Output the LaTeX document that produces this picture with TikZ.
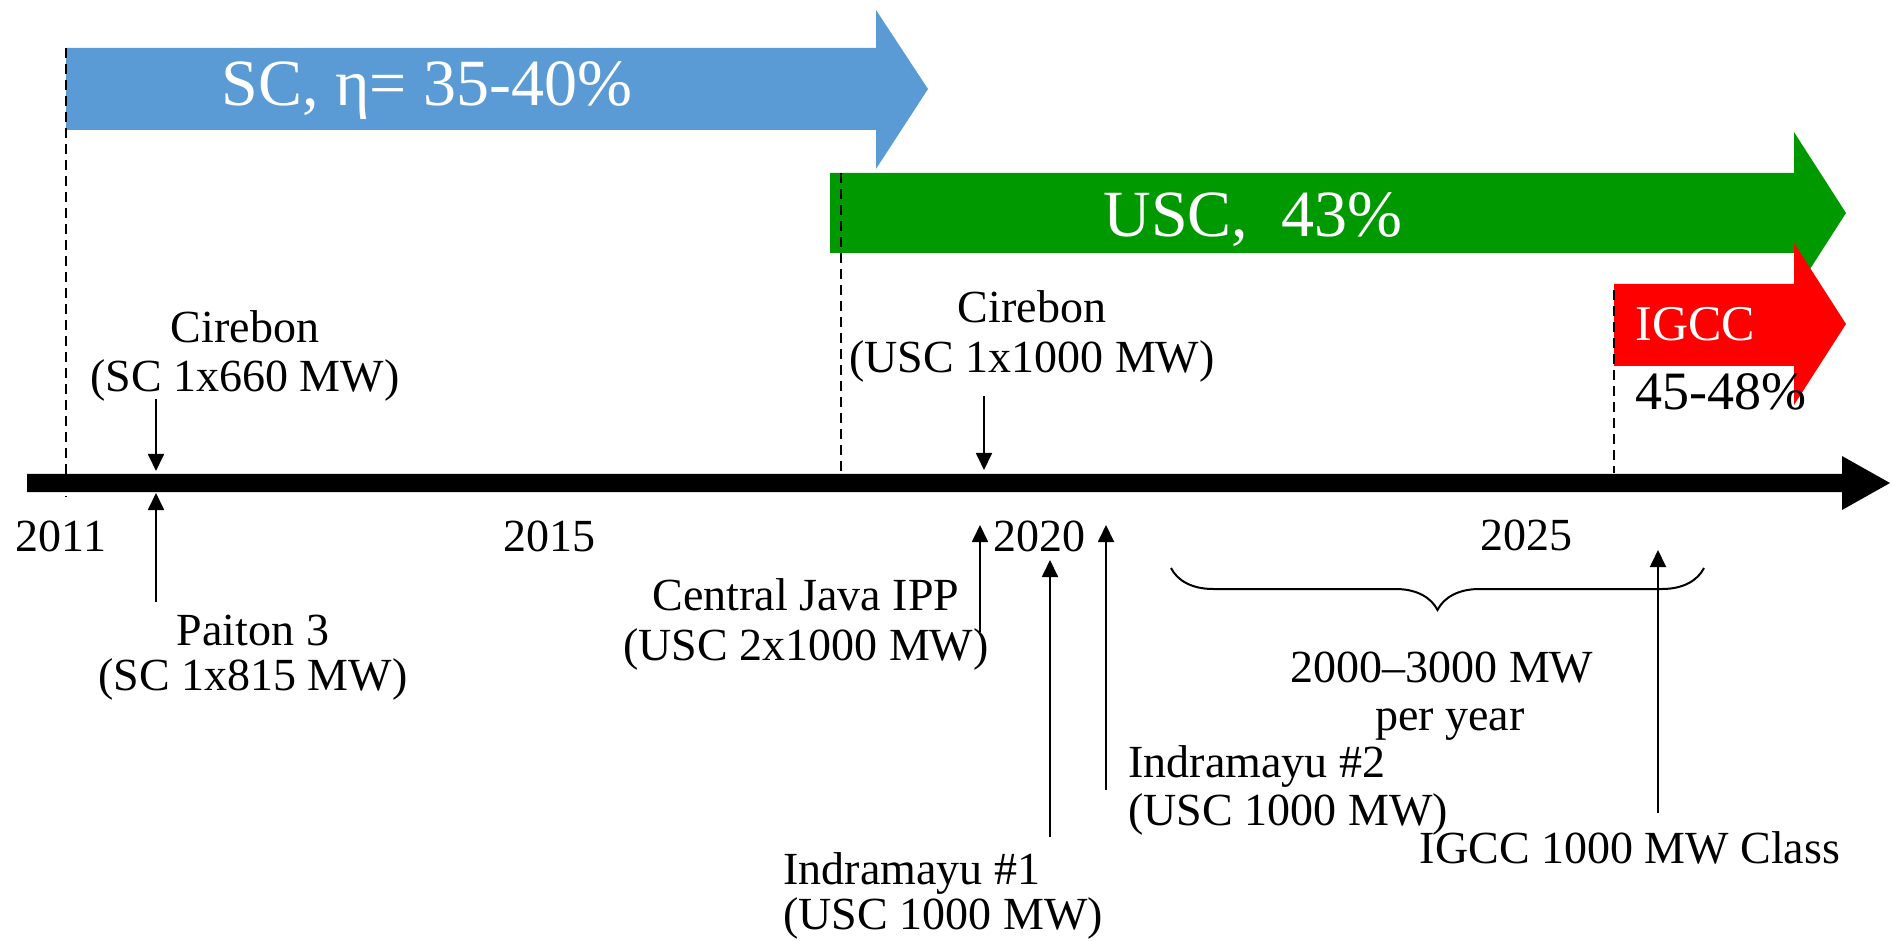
\documentclass[tikz,border=0pt]{standalone}
\usepackage{fontspec}
\setmainfont{Liberation Serif}
\usetikzlibrary{arrows.meta,decorations.pathreplacing}
\definecolor{scblue}{RGB}{91,155,213}
\definecolor{uscgreen}{RGB}{0,153,0}
\definecolor{igred}{RGB}{255,0,0}
\tikzset{
  lbl/.style={font=\fontsize{23}{24.5}\selectfont, inner sep=0pt, anchor=base},
  lblw/.style={lbl, anchor=base west},
  big/.style={font=\fontsize{33}{36}\selectfont, text=white, inner sep=0pt, anchor=base},
  ptr/.style={line width=0.9pt, -{Triangle[length=8.5pt,width=8pt]}},
  guide/.style={line width=0.8pt, dash pattern=on 5pt off 3pt},
}
\begin{document}
\begin{tikzpicture}[x=0.5pt,y=-0.5pt]
\useasboundingbox (0,0) rectangle (1892,941);
% era arrows
\fill[scblue] (66,48) -- (876,48) -- (876,10) -- (928,89) -- (876,169) -- (876,130) -- (66,130) -- cycle;
\fill[uscgreen] (830,173) -- (1794,173) -- (1794,132) -- (1846,213) -- (1794,294) -- (1794,253) -- (830,253) -- cycle;
\fill[igred] (1614,284) -- (1794,284) -- (1794,243) -- (1846,324) -- (1794,405) -- (1794,366) -- (1614,366) -- cycle;
% timeline
\fill[black] (27,474) -- (1842,474) -- (1842,456) -- (1890,483) -- (1842,510) -- (1842,492) -- (27,492) -- cycle;
% dashed guides
\coordinate (g1a) at (66,48);   \coordinate (g1b) at (66,497);
\coordinate (g2a) at (841,173); \coordinate (g2b) at (841,473);
\coordinate (g3a) at (1614,290); \coordinate (g3b) at (1614,473);
\draw[guide] (g1a) -- (g1b);
\draw[guide] (g2a) -- (g2b);
\draw[guide] (g3a) -- (g3b);
% arrow labels
\node[big] (sc) at (427,106) {SC, η= 35-40\%};
\node[big] (usc) at (1253,237) {USC,\ \ 43\%};
\node[big, anchor=base west, font=\fontsize{25}{28}\selectfont] (igcc) at (1635,341) {IGCC};
\node[lblw, font=\fontsize{27}{30}\selectfont] (eff) at (1635,410) {45-48\%};
% years
\node[lbl] (y2011) at (61,552) {2011};
\node[lbl] (y2015) at (549,552) {2015};
\node[lbl] (y2020) at (1039,552) {2020};
\node[lbl] (y2025) at (1526,550) {2025};
% labels
\node[lbl] (cirA1) at (245,343) {Cirebon};
\node[lbl] (cirA2) at (245,392) {(SC 1x660 MW)};
\node[lbl] (paiA1) at (253,645) {Paiton 3};
\node[lbl] (paiA2) at (253,690) {(SC 1x815 MW)};
\node[lbl] (cirB1) at (1032,323) {Cirebon};
\node[lbl] (cirB2) at (1032,373) {(USC 1x1000 MW)};
\node[lbl] (cjv1) at (806,610) {Central Java IPP};
\node[lbl] (cjv2) at (806,660) {(USC 2x1000 MW)};
\node[lblw] (ind1a) at (783,884) {Indramayu \#1};
\node[lblw] (ind1b) at (783,929) {(USC 1000 MW)};
\node[lblw] (ind2a) at (1128,777) {Indramayu \#2};
\node[lblw] (ind2b) at (1128,825) {(USC 1000 MW)};
\node[lbl] (mw1) at (1442,682) {2000–3000 MW};
\node[lbl] (mw2) at (1450,730) {per year};
\node[lbl] (igccl) at (1630,863) {IGCC 1000 MW Class};
% event pointers
\coordinate (p1s) at (156,399);  \coordinate (p1e) at (156,471);
\coordinate (p2s) at (156,602);  \coordinate (p2e) at (156,493);
\coordinate (p3s) at (984,396);  \coordinate (p3e) at (984,470);
\coordinate (p4s) at (980,632);  \coordinate (p4e) at (980,525);
\coordinate (p5s) at (1050,837); \coordinate (p5e) at (1050,560);
\coordinate (p6s) at (1106,790); \coordinate (p6e) at (1106,525);
\coordinate (p7s) at (1658,813); \coordinate (p7e) at (1658,550);
\draw[ptr] (p1s) -- (p1e);
\draw[ptr] (p2s) -- (p2e);
\draw[ptr] (p3s) -- (p3e);
\draw[ptr] (p4s) -- (p4e);
\draw[ptr] (p5s) -- (p5e);
\draw[ptr] (p6s) -- (p6e);
\draw[ptr] (p7s) -- (p7e);
% brace
\coordinate (brL) at (1171,568);
\coordinate (brR) at (1704,568);
\draw[line width=1pt, decorate, decoration={brace, mirror, amplitude=21pt}] (brL) -- (brR);
\end{tikzpicture}
\end{document}
